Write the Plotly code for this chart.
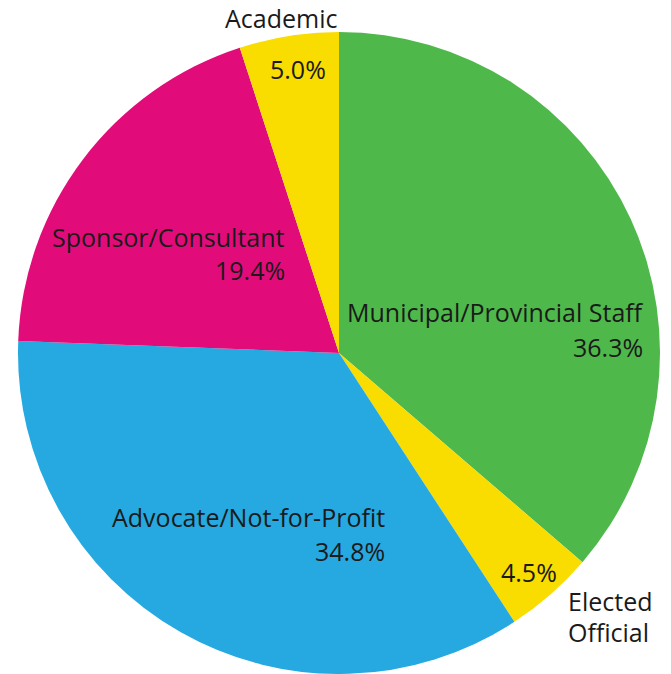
import plotly.graph_objects as go

labels = ["Municipal/Provincial Staff", "Elected Official", "Advocate/Not-for-Profit",
          "Sponsor/Consultant", "Academic"]
values = [36.3, 4.5, 34.8, 19.4, 5.0]
colors = ["#4FB84B", "#F9DC00", "#25A9E0", "#E20B7A", "#F9DC00"]

W, H = 671, 674
FONT = "Open Sans"
FS = 25

fig = go.Figure(go.Pie(
    labels=labels, values=values, sort=False, direction="clockwise", rotation=0,
    marker=dict(colors=colors, line=dict(width=0)),
    textinfo="none", hoverinfo="label+percent", showlegend=False,
    domain=dict(x=[18 / W, 660 / W], y=[0, 1 - 32 / H]),
))

def ann(text, px, py, anchor):
    fig.add_annotation(text=text, x=px / W, y=1 - py / H, xref="paper", yref="paper",
                       xanchor=anchor, yanchor="middle", showarrow=False,
                       font=dict(family=FONT, size=FS, color="#1a1a1a"))

pct = [f"{v:.1f}%" for v in values]
# Municipal/Provincial Staff
ann(labels[0], 645, 312, "right")
ann(pct[0], 645, 347, "right")
# Elected Official
ann("Elected", 566, 601, "left")
ann("Official", 566, 632, "left")
ann(pct[1], 529, 572, "center")
# Advocate/Not-for-Profit
ann(labels[2], 387, 517, "right")
ann(pct[2], 387, 551, "right")
# Sponsor/Consultant
ann(labels[3], 287, 237, "right")
ann(pct[3], 287, 270, "right")
# Academic
ann(labels[4], 281, 18, "center")
ann(pct[4], 298, 69, "center")

fig.update_layout(width=W, height=H, margin=dict(l=0, r=0, t=0, b=0),
                  paper_bgcolor="white", plot_bgcolor="white")
fig.write_html("out.html", config={"displayModeBar": False},
               post_script="document.body.style.margin='0';")
